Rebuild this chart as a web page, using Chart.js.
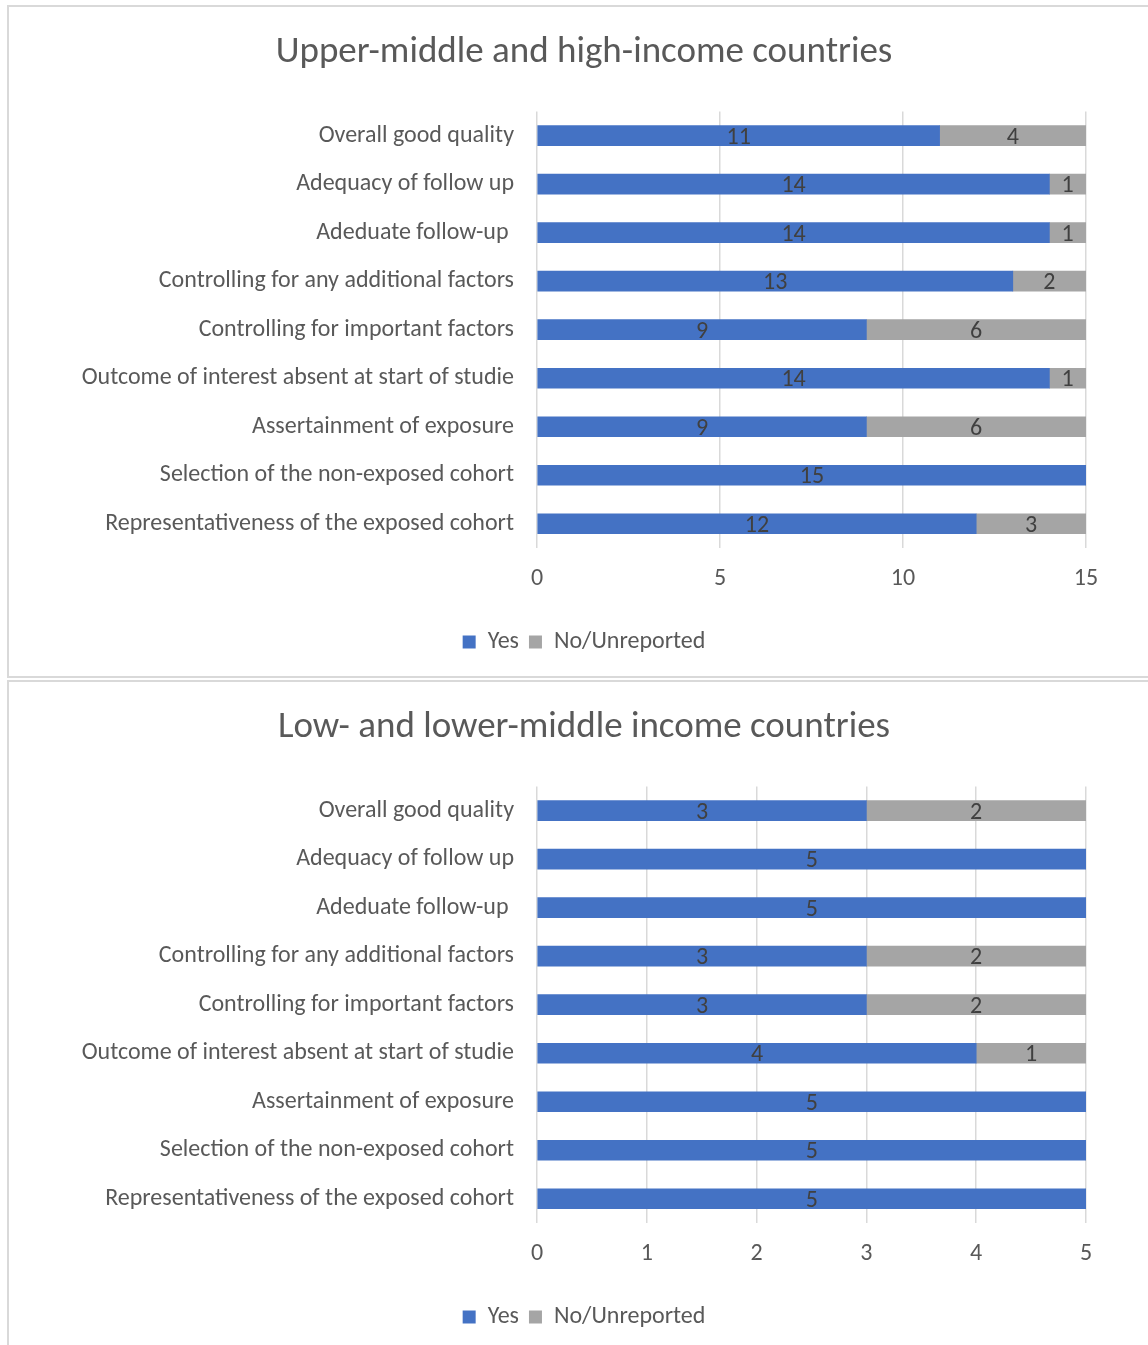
<!DOCTYPE html>
<html>
<head>
<meta charset="utf-8">
<script src="https://cdn.jsdelivr.net/npm/chart.js@4/dist/chart.umd.min.js"></script>
<style>
  html, body { margin: 0; padding: 0; background: #fff; overflow: hidden; }
  body { width: 1148px; height: 1345px; position: relative; }
  .frame { position: absolute; border: 2px solid #d9d9d9; box-sizing: border-box; }
  .holder { position: absolute; left: 8px; width: 1152px; height: 675px; }
</style>
</head>
<body>
<div class="frame" style="left:7px; top:5px; width:1160px; height:673px;"></div>
<div class="frame" style="left:7px; top:680px; width:1160px; height:700px;"></div>
<div class="holder" style="top:0px;"><canvas id="chartHigh" width="1152" height="675"></canvas></div>
<div class="holder" style="top:675px;"><canvas id="chartLow" width="1152" height="675"></canvas></div>
<script>
var criteria = [
	"Overall good quality",
	"Adequacy of follow up",
	"Adeduate follow-up ",
	"Controlling for any additional factors",
	"Controlling for important factors",
	"Outcome of interest absent at start of studie",
	"Assertainment of exposure",
	"Selection of the non-exposed cohort",
	"Representativeness of the exposed cohort"
];

var highYes = [11, 14, 14, 13, 9, 14, 9, 15, 12];
var highNo  = [4, 1, 1, 2, 6, 1, 6, 0, 3];

var lowYes = [3, 5, 5, 3, 3, 4, 5, 5, 5];
var lowNo  = [2, 0, 0, 2, 2, 1, 0, 0, 0];

var FONT = "'Carlito', 'Liberation Sans Narrow', 'Open Sans', sans-serif";
var TEXT = "#595959";

// writes the count in the middle of every bar segment
var valueLabels = {
	id: "valueLabels",
	afterDatasetsDraw: function(chart) {
		var ctx = chart.ctx;
		ctx.save();
		ctx.font = "24px " + FONT;
		ctx.fillStyle = "#404040";
		ctx.textAlign = "center";
		ctx.textBaseline = "middle";
		chart.data.datasets.forEach(function(ds, i) {
			var meta = chart.getDatasetMeta(i);
			meta.data.forEach(function(bar, j) {
				var v = ds.data[j];
				if (!v) return;
				var p = bar.getCenterPoint();
				ctx.fillText(v, p.x, p.y + 2);
			});
		});
		ctx.restore();
	}
};

function makeChart(id, title, yes, no, max, step) {
	return new Chart(document.getElementById(id), {
		type: "bar",
		data: {
			labels: criteria,
			datasets: [
				{ label: "Yes", data: yes, backgroundColor: "#4472C4", barThickness: 20 },
				{ label: "No/Unreported", data: no, backgroundColor: "#A5A5A5", barThickness: 20 }
			]
		},
		options: {
			indexAxis: "y",
			responsive: false,
			animation: false,
			layout: { padding: { left: 0, right: 0, top: 0, bottom: 11 } },
			plugins: {
				title: {
					display: true,
					text: title,
					color: TEXT,
					font: { family: FONT, size: 37, weight: "normal" },
					padding: { top: 31, bottom: 36 }
				},
				legend: {
					position: "bottom",
					labels: {
						color: TEXT,
						font: { family: FONT, size: 24 },
						boxWidth: 13,
						boxHeight: 13,
						padding: 10
					}
				},
				tooltip: { enabled: false }
			},
			scales: {
				x: {
					stacked: true,
					min: 0,
					max: max,
					ticks: { stepSize: step, color: TEXT, font: { family: FONT, size: 24 }, padding: 17 },
					grid: { color: "#d9d9d9", lineWidth: 1.5, drawTicks: false },
					border: { display: false },
					afterFit: function(scale) { scale.height = 72; }
				},
				y: {
					stacked: true,
					ticks: { color: TEXT, font: { family: FONT, size: 24 }, padding: 23 },
					grid: { display: false, drawTicks: false },
					border: { display: false },
					afterFit: function(scale) { scale.width = 529; }
				},
				// empty right-hand gutter so the plot stops short of the frame edge
				gutter: {
					type: "category",
					position: "right",
					ticks: { display: false },
					grid: { display: false, drawTicks: false },
					border: { display: false },
					afterFit: function(scale) { scale.width = 74; }
				}
			}
		},
		plugins: [valueLabels]
	});
}

makeChart("chartHigh", "Upper-middle and high-income countries", highYes, highNo, 15, 5);
makeChart("chartLow", "Low- and lower-middle income countries", lowYes, lowNo, 5, 1);
</script>
</body>
</html>
